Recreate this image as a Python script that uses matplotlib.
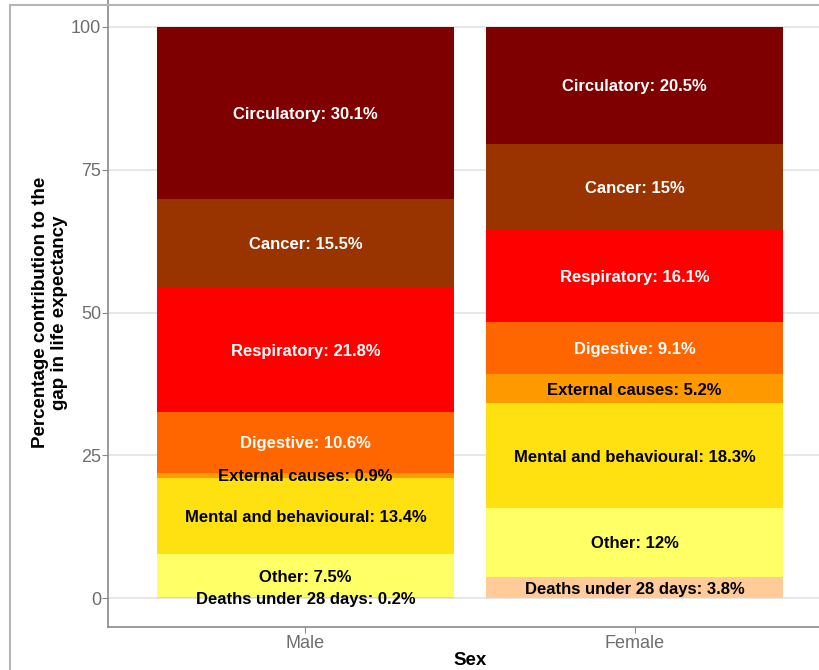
import matplotlib
matplotlib.use("Agg")
import matplotlib.pyplot as plt
from matplotlib.patches import Rectangle

plt.rcParams['font.family'] = ['Liberation Sans', 'DejaVu Sans']

sexes = ["Male", "Female"]
causes = ["Deaths under 28 days", "Other", "Mental and behavioural", "External causes",
          "Digestive", "Respiratory", "Cancer", "Circulatory"]
male_values = [0.2, 7.5, 13.4, 0.9, 10.6, 21.8, 15.5, 30.1]
female_values = [3.8, 12, 18.3, 5.2, 9.1, 16.1, 15, 20.5]
colors = ["#FFCC99", "#FFFF66", "#FFE010", "#FF9900", "#FF6600", "#FF0000", "#993300", "#7F0000"]
text_colors = ["black", "black", "black", "black", "white", "white", "white", "white"]
yticks = [0, 25, 50, 75, 100]

fig = plt.figure(figsize=(8.19, 6.70), dpi=100)
ax = fig.add_axes([108/819, 43/670, (832-108)/819, (672-43)/670])

# outer border of the screenshot
fig.patches.append(Rectangle((10/819, -0.1), 1.2, 0.1 + (665/670), transform=fig.transFigure,
                             fill=False, edgecolor="#b5b5b5", linewidth=1.5, zorder=0))

for t in yticks:
    ax.axhline(t, color="#e3e3e3", linewidth=1.2, zorder=0)

series = [male_values, female_values]
xs = [1, 2]
for xi, vals in zip(xs, series):
    bottom = 0
    for cause, v, c, tc in zip(causes, vals, colors, text_colors):
        ax.bar(xi, v, bottom=bottom, width=0.9, color=c, edgecolor="none", zorder=2)
        ax.text(xi, bottom + v / 2, f"{cause}: {v:g}%", ha="center", va="center_baseline",
                color=tc, fontsize=12, fontweight="bold", zorder=3)
        bottom += v

ax.set_xlim(0.4, 2.6)
ax.set_ylim(-5, 105)
ax.set_xticks(xs)
ax.set_xticklabels(sexes)
ax.set_yticks(yticks)
ax.tick_params(axis="both", colors="#8a8a8a", labelcolor="#6e6e6e", labelsize=13, length=4, pad=2)
ax.tick_params(axis="y", pad=1)
for s in ["top", "right"]:
    ax.spines[s].set_visible(False)
for s in ["left", "bottom"]:
    ax.spines[s].set_color("#8a8a8a")
    ax.spines[s].set_linewidth(1.2)

ax.set_xlabel("Sex", fontsize=13.5, fontweight="bold", labelpad=0)
ax.set_ylabel("Percentage contribution to the\ngap in life expectancy", fontsize=13.5,
              fontweight="bold", labelpad=2, linespacing=1.15)

fig.savefig("out.png", dpi=100)
